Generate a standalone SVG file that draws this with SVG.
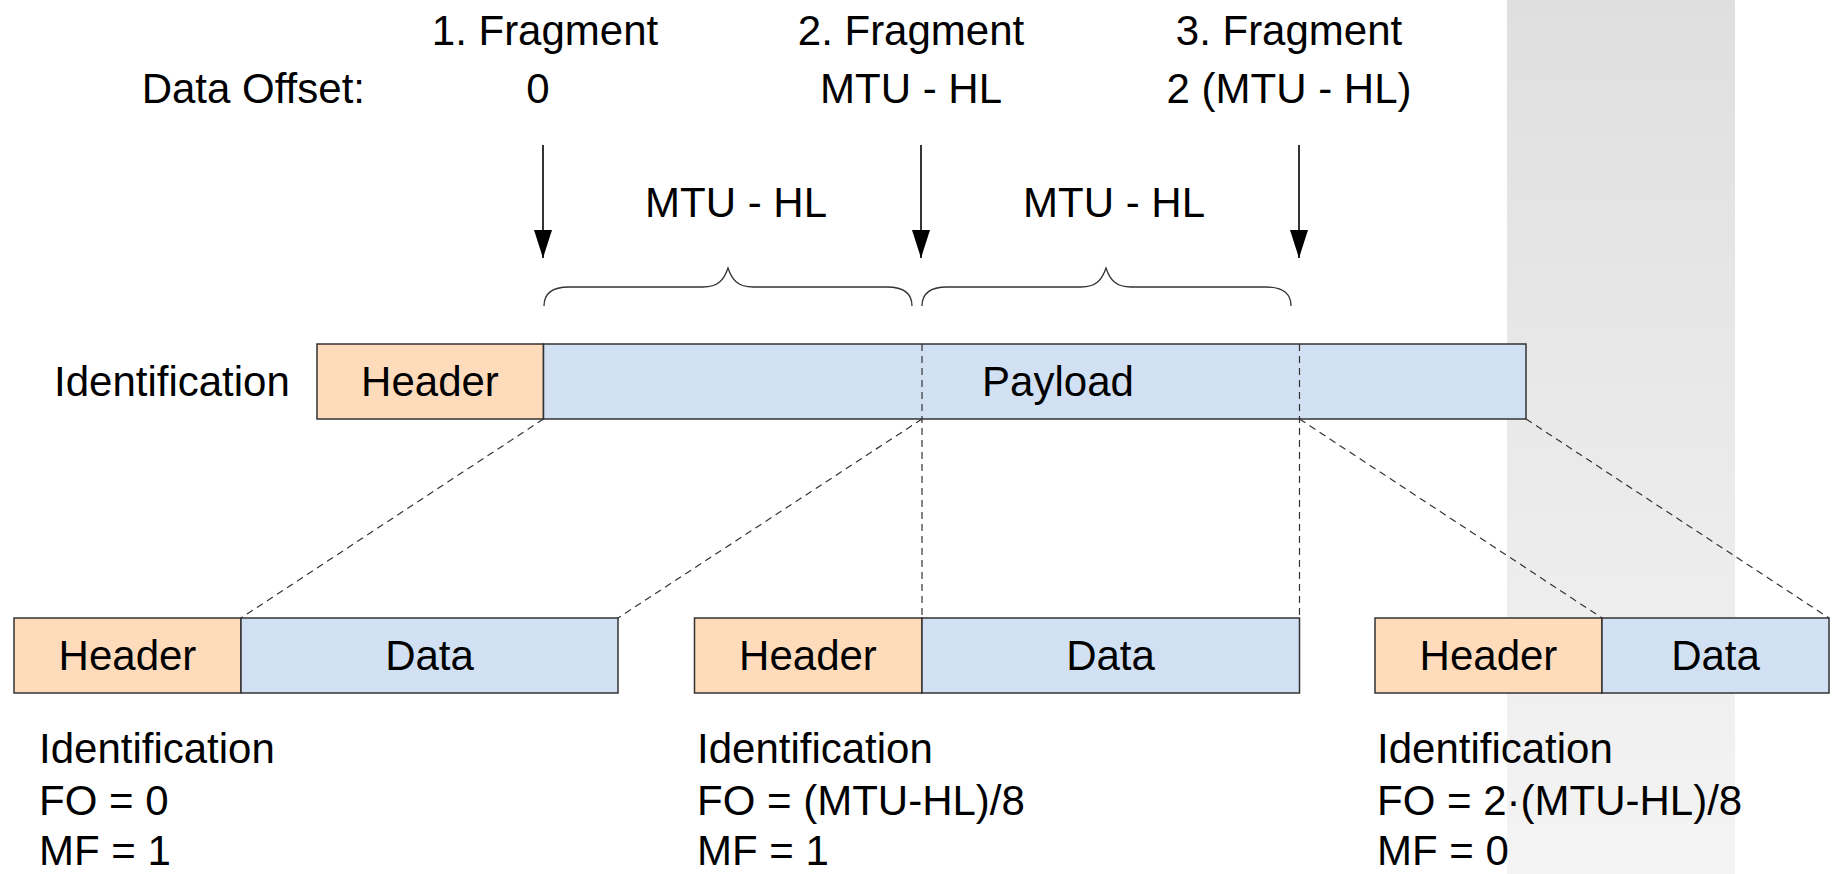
<svg xmlns="http://www.w3.org/2000/svg" width="1833" height="874" viewBox="0 0 1833 874">
<defs>
<linearGradient id="band" x1="0" y1="0" x2="0" y2="1">
<stop offset="0" stop-color="#dfdfdf"/>
<stop offset="1" stop-color="#f4f4f4"/>
</linearGradient>
<marker id="arr" viewBox="0 0 28 18" refX="28" refY="9" markerWidth="28" markerHeight="18" markerUnits="userSpaceOnUse" orient="auto">
<path d="M0,0 L28,9 L0,18 Z" fill="#000"/>
</marker>
<style>
text{font-family:"Liberation Sans",Arial,Helvetica,sans-serif;font-size:42px;fill:#000}
.c{text-anchor:middle}
.e{text-anchor:end}
.hd{fill:#fedcbb;stroke:#333;stroke-width:1.5}
.pl{fill:#d1e0f2;stroke:#333;stroke-width:1.5}
.dash{fill:none;stroke:#333;stroke-width:1.2;stroke-dasharray:7 5}
.arrow{stroke:#000;stroke-width:1.6;fill:none}
.brace{fill:none;stroke:#333;stroke-width:1.3}
</style>
</defs>
<rect x="1507" y="0" width="228" height="874" fill="url(#band)"/>

<g id="labels">
<text class="c" x="545" y="45">1. Fragment</text>
<text class="c" x="911" y="45">2. Fragment</text>
<text class="c" x="1289" y="45">3. Fragment</text>
<text class="e" x="365" y="103">Data Offset:</text>
<text class="c" x="538" y="103">0</text>
<text class="c" x="911" y="103">MTU - HL</text>
<text class="c" x="1289" y="103">2 (MTU - HL)</text>
<text class="c" x="736" y="217">MTU - HL</text>
<text class="c" x="1114" y="217">MTU - HL</text>
<text x="54" y="396">Identification</text>
</g>

<g id="arrows">
<line class="arrow" x1="543" y1="145" x2="543" y2="258" marker-end="url(#arr)"/>
<line class="arrow" x1="921" y1="145" x2="921" y2="258" marker-end="url(#arr)"/>
<line class="arrow" x1="1299" y1="145" x2="1299" y2="258" marker-end="url(#arr)"/>
</g>

<g id="braces">
<path class="brace" d="M544,306 C544,294 551,287 569,287 L703,287 C718,287 724,280 728,268 C732,280 738,287 753,287 L887,287 C905,287 912,294 912,306"/>
<path class="brace" d="M922,306 C922,294 929,287 947,287 L1081,287 C1096,287 1102,280 1106,268 C1110,280 1116,287 1131,287 L1266,287 C1284,287 1291,294 1291,306"/>
</g>

<g id="packet">
<rect class="hd" x="317" y="344" width="226.5" height="75"/>
<rect class="pl" x="543.5" y="344" width="982.5" height="75"/>
<text class="c" x="430" y="396">Header</text>
<text class="c" x="1058" y="396">Payload</text>
</g>

<g id="fragment1">
<rect class="hd" x="14" y="618" width="227" height="75"/>
<rect class="pl" x="241" y="618" width="377" height="75"/>
<text class="c" x="127.5" y="670">Header</text>
<text class="c" x="429.5" y="670">Data</text>
<text x="39" y="763">Identification</text>
<text x="39" y="815">FO = 0</text>
<text x="39" y="865">MF = 1</text>
</g>

<g id="fragment2">
<rect class="hd" x="694.5" y="618" width="227.5" height="75"/>
<rect class="pl" x="922" y="618" width="377.5" height="75"/>
<text class="c" x="808" y="670">Header</text>
<text class="c" x="1110.5" y="670">Data</text>
<text x="697" y="763">Identification</text>
<text x="697" y="815">FO = (MTU-HL)/8</text>
<text x="697" y="865">MF = 1</text>
</g>

<g id="fragment3">
<rect class="hd" x="1375" y="618" width="227" height="75"/>
<rect class="pl" x="1602" y="618" width="227" height="75"/>
<text class="c" x="1488.5" y="670">Header</text>
<text class="c" x="1715.5" y="670">Data</text>
<text x="1377" y="763">Identification</text>
<text x="1377" y="815">FO = 2·(MTU-HL)/8</text>
<text x="1377" y="865">MF = 0</text>
</g>

<g id="connectors">
<line class="dash" x1="543.5" y1="419" x2="241" y2="618"/>
<line class="dash" x1="922" y1="419" x2="618" y2="618"/>
<line class="dash" x1="922" y1="344" x2="922" y2="618"/>
<line class="dash" x1="1299.5" y1="344" x2="1299.5" y2="618"/>
<line class="dash" x1="1299.5" y1="419" x2="1602" y2="618"/>
<line class="dash" x1="1526" y1="419" x2="1829" y2="618"/>
</g>
</svg>
